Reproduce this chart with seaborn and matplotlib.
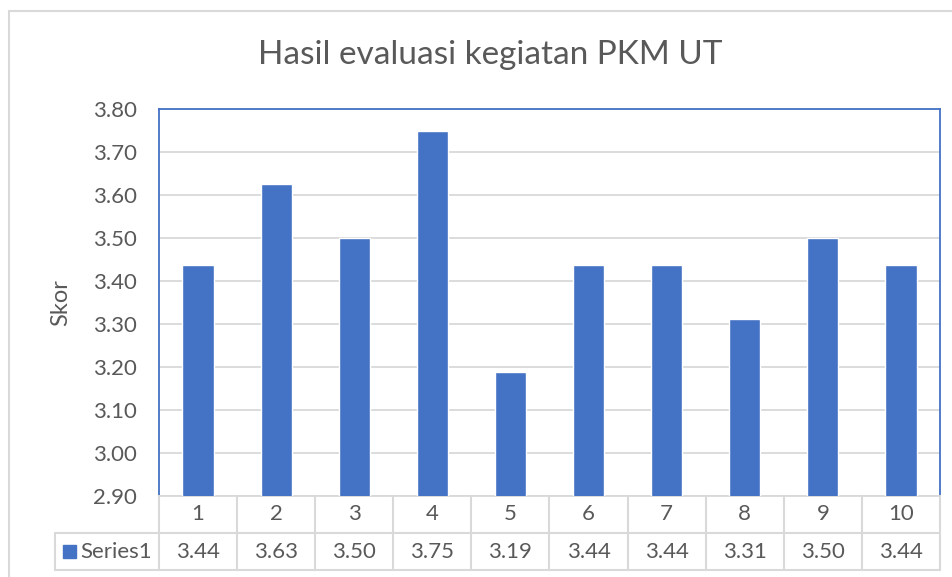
import matplotlib
matplotlib.use("Agg")
import matplotlib.pyplot as plt
import seaborn as sns
import pandas as pd
from matplotlib.lines import Line2D
from matplotlib.patches import Rectangle

categories = ["1", "2", "3", "4", "5", "6", "7", "8", "9", "10"]
values = [3.4375, 3.625, 3.5, 3.75, 3.1875, 3.4375, 3.4375, 3.3125, 3.5, 3.4375]
value_labels = ["3.44", "3.63", "3.50", "3.75", "3.19", "3.44", "3.44", "3.31", "3.50", "3.44"]
yticks = [2.90, 3.00, 3.10, 3.20, 3.30, 3.40, 3.50, 3.60, 3.70, 3.80]
series_name = "Series1"
title = "Hasil evaluasi kegiatan PKM UT"
ylabel = "Skor"

sns.set_theme(style="white")
plt.rcParams["font.family"] = ["Lato", "DejaVu Sans"]

BLUE = "#4472C4"
GRID = "#D9D9D9"
TXT = "#595959"

W, H = 953, 577
fig = plt.figure(figsize=(W / 100, H / 100), dpi=100)

def fx(px):
    return px / W

def fy(py):
    return 1 - py / H

L, R, T, B = 159, 940, 109, 496
ax = fig.add_axes([fx(L), fy(B), fx(R) - fx(L), fy(T) - fy(B)])

df = pd.DataFrame({"cat": categories, "val": values})
sns.barplot(data=df, x="cat", y="val", color=BLUE, saturation=1, width=0.4, ax=ax, zorder=3)
ax.set_ylim(2.9, 3.8)
ax.set_xlim(-0.5, len(categories) - 0.5)
ax.set_yticks(yticks)
ax.set_yticklabels([f"{t:.2f}" for t in yticks], color=TXT, fontsize=16)
ax.tick_params(axis="y", length=0, pad=16)
ax.set_xticks([])
ax.set_xlabel("")
ax.set_ylabel(ylabel, color=TXT, fontsize=17)
ax.yaxis.set_label_coords((71 - L) / (R - L), 0.5)
ax.yaxis.grid(True, color=GRID, linewidth=1.3, zorder=0)
ax.set_axisbelow(True)
for s in ["left", "top", "right"]:
    ax.spines[s].set_color(BLUE)
    ax.spines[s].set_linewidth(1.3)
ax.spines["bottom"].set_color(GRID)
ax.spines["bottom"].set_linewidth(1.3)

fig.text(fx(490), fy(55), title, ha="center", va="center", color=TXT, fontsize=24)

# data table
r1, r2, r3 = 496, 533, 570
tl = 55
n = len(categories)
colw = (R - L) / n
lines = []
lines.append(((tl, R), (r2, r2)))
lines.append(((tl, R), (r3, r3)))
lines.append(((tl, tl), (r2, r3)))
for i in range(n + 1):
    x = L + i * colw
    lines.append(((x, x), (r1, r3)))
for xs, ys in lines:
    fig.add_artist(Line2D([fx(xs[0]), fx(xs[1])], [fy(ys[0]), fy(ys[1])],
                          color=GRID, linewidth=1.5, transform=fig.transFigure))
for i, (c, v) in enumerate(zip(categories, value_labels)):
    cx = L + (i + 0.5) * colw
    fig.text(fx(cx), fy((r1 + r2) / 2), c, ha="center", va="center", color=TXT, fontsize=16)
    fig.text(fx(cx), fy((r2 + r3) / 2), v, ha="center", va="center", color=TXT, fontsize=16)
fig.add_artist(Rectangle((fx(63), fy(558)), fx(13), fy(545) - fy(558), color=BLUE,
                         transform=fig.transFigure))
fig.text(fx(80), fy((r2 + r3) / 2), series_name, ha="left", va="center", color=TXT, fontsize=16)

# outer chart border
fig.add_artist(Line2D([fx(9.5), fx(952)], [fy(10.5), fy(10.5)], color=GRID, linewidth=1.5,
                      transform=fig.transFigure))
fig.add_artist(Line2D([fx(9.5), fx(9.5)], [fy(10.5), fy(577)], color=GRID, linewidth=1.5,
                      transform=fig.transFigure))

fig.savefig("out.png", dpi=100)
